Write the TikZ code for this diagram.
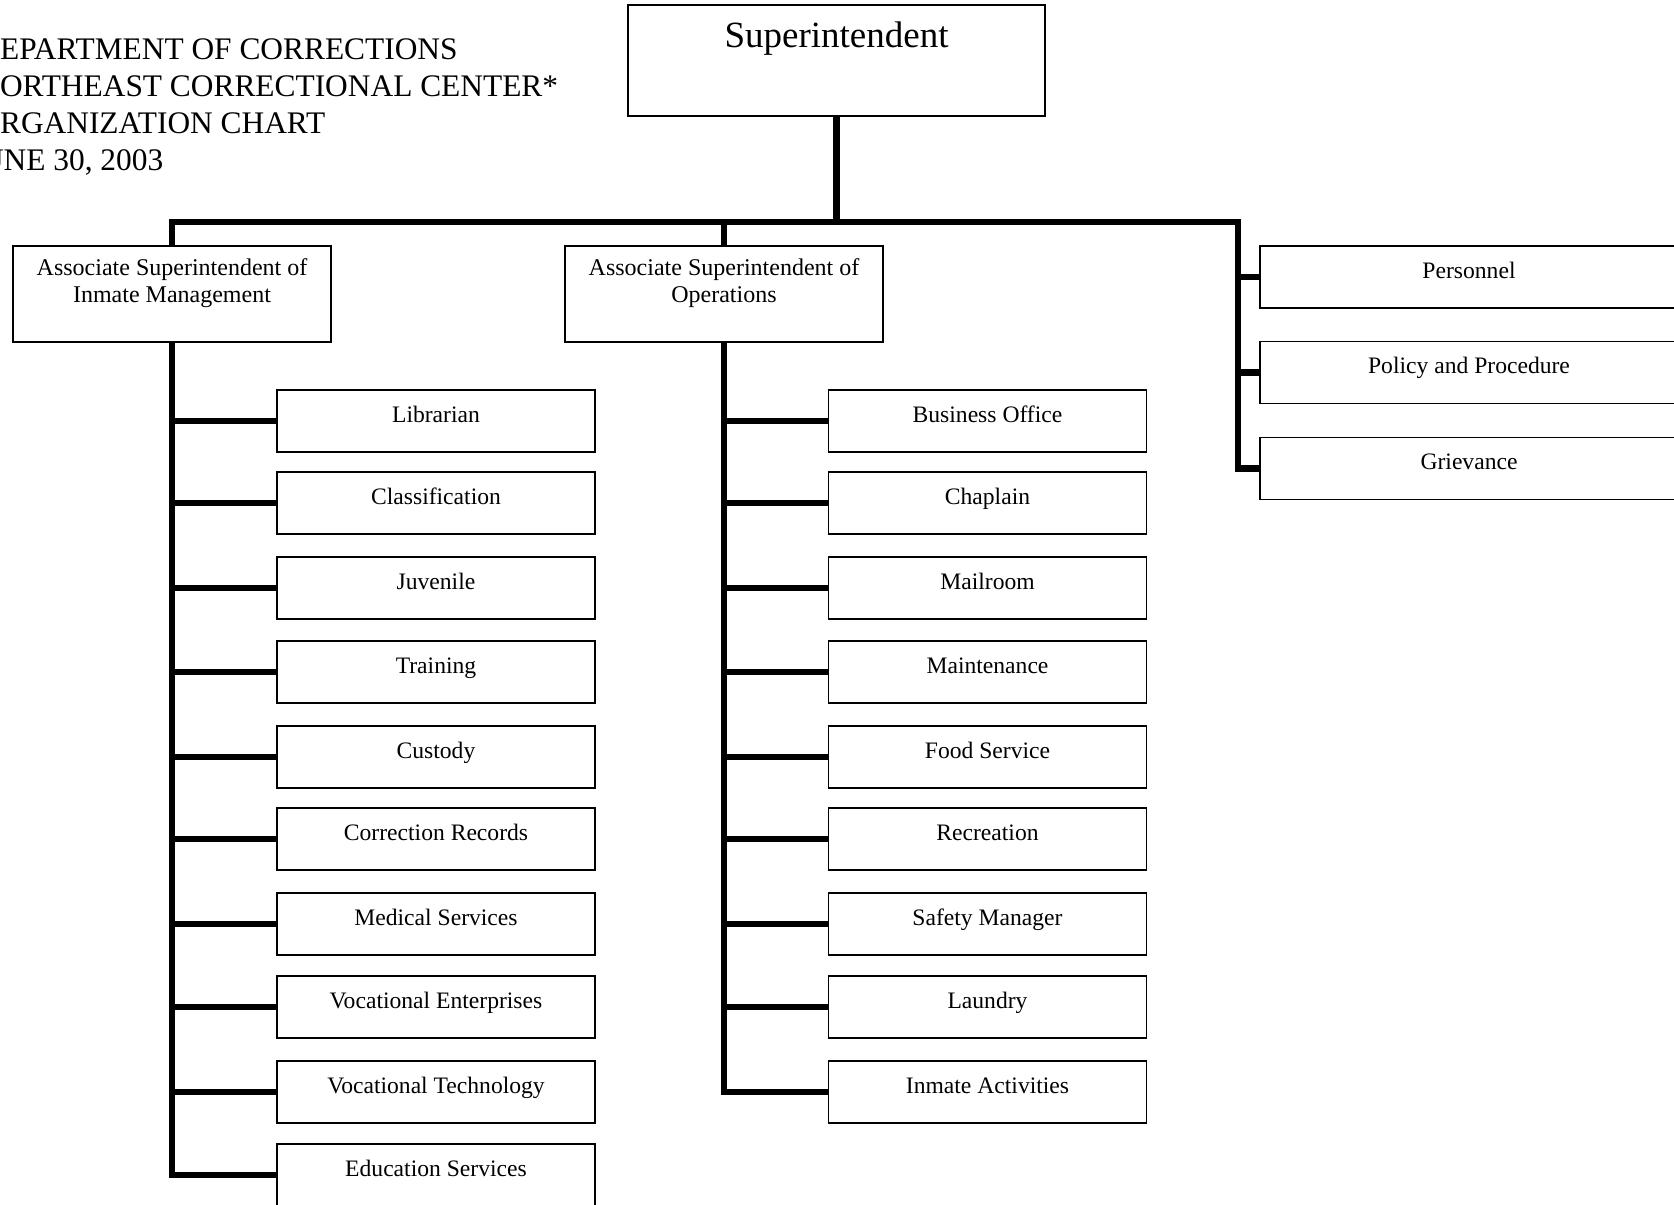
\documentclass[tikz,border=0pt]{standalone}
\usepackage{fontspec}
\setmainfont{Liberation Serif}
\usetikzlibrary{positioning}

\begin{document}
\begin{tikzpicture}[x=0.5pt, y=-0.5pt,
  box/.style={draw, line width=0.8pt, minimum width=159pt, minimum height=31pt, inner sep=0pt,
    text height=7pt, text depth=6pt, font=\fontsize{11.8}{13.5}\selectfont},
  headbox/.style={box, minimum height=48pt, align=center, text height=22pt, text depth=14pt,
    font=\fontsize{12}{13.5}\selectfont},
  sidebox/.style={box, minimum width=209pt},
  trunk/.style={line width=3.3pt, line join=miter}]
\path[use as bounding box] (0,0) rectangle (1674,1204);

\node[anchor=base west, align=left, inner sep=0pt, font=\fontsize{15.7}{18.35}\selectfont] (title) at (-23,170)
  {DEPARTMENT OF CORRECTIONS\\NORTHEAST CORRECTIONAL CENTER*\\ORGANIZATION CHART\\\hspace*{-4.3pt}JUNE 30, 2003};

\node[box, minimum width=208.5pt, minimum height=55.5pt, text height=10pt, text depth=22.5pt,
  font=\fontsize{18.5}{22}\selectfont] (super) at (836.5,60.5) {Superintendent};

\node[headbox] (im) at (172,294) {Associate Superintendent of\\Inmate Management};
\node[headbox] (ops) at (724,294) {Associate Superintendent of\\Operations};

\node[sidebox] (per) at (1469,277) {Personnel};
\node[sidebox] (pol) at (1469,372.5) {Policy and Procedure};
\node[sidebox] (grv) at (1469,468.5) {Grievance};

\foreach \y/\nm/\txt in {421/lib/Librarian, 503/cls/Classification, 588/juv/Juvenile,
    672/trn/Training, 757/cus/Custody, 839/rec/Correction Records, 924/med/Medical Services,
    1007/vent/Vocational Enterprises, 1092/vtec/Vocational Technology, 1175/edu/Education Services}
  \node[box] (\nm) at (436,\y) {\txt};

\foreach \y/\nm/\txt in {421/bus/Business Office, 503/chp/Chaplain, 588/mail/Mailroom,
    672/mnt/Maintenance, 757/food/Food Service, 839/rcr/Recreation, 924/safe/Safety Manager,
    1007/lau/Laundry, 1092/act/Inmate Activities}
  \node[box] (\nm) at (987.5,\y) {\txt};

\coordinate (rtop) at (1238,222);
\draw[trunk] (im.north) |- (rtop) |- (grv.west);
\draw[trunk] (super.south) -- (super.south |- rtop);
\draw[trunk] (ops.north) -- (ops.north |- rtop);
\draw[trunk] (rtop |- per.west) -- (per.west);
\draw[trunk] (rtop |- pol.west) -- (pol.west);

\draw[trunk] (im.south) |- (edu.west);
\foreach \nm in {lib,cls,juv,trn,cus,rec,med,vent,vtec}
  \draw[trunk] (im.south |- \nm.west) -- (\nm.west);

\draw[trunk] (ops.south) |- (act.west);
\foreach \nm in {bus,chp,mail,mnt,food,rcr,safe,lau}
  \draw[trunk] (ops.south |- \nm.west) -- (\nm.west);
\end{tikzpicture}
\end{document}
